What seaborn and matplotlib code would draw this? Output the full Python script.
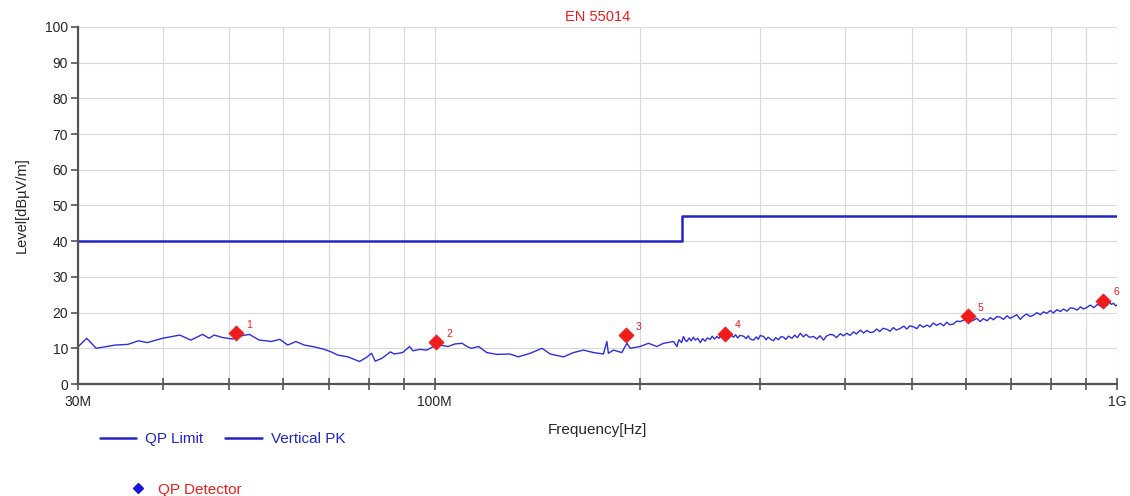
import numpy as np
import pandas as pd
import seaborn as sns
import matplotlib
matplotlib.use("Agg")
import matplotlib.pyplot as plt
from matplotlib.lines import Line2D
from matplotlib.ticker import FixedLocator, NullFormatter

# measured trace (Vertical PK), frequency in MHz, level in dBuV/m
freq_mhz = [
    30.0, 30.9, 31.9, 34.0, 35.5, 36.8, 37.9, 39.9, 42.3, 43.9, 45.7, 46.7, 47.5, 48.9,
    50.6, 51.7, 53.5, 55.3, 56.6, 57.6, 59.3, 60.9, 62.6, 64.4, 66.6, 68.9, 70.5, 72.1,
    74.6, 77.6, 79.5, 80.8, 81.8, 83.7, 86.1, 87.2, 89.7, 91.9, 92.9, 95.1, 97.4, 99.1,
    101.0, 104.6, 107.0, 109.7, 111.5, 113.2, 116.0, 119.2, 123.3, 128.9, 132.6, 138.0,
    143.6, 147.7, 154.4, 159.7, 165.2, 170.9, 176.7, 178.8, 179.7, 182.8, 188.0, 191.3,
    193.4, 200.0, 205.7, 211.6, 216.4, 223.9, 226.4, 228.0, 230.0, 231.5, 233.0, 234.2,
    236.0, 237.5, 239.5, 241.0, 243.0, 245.0, 247.0, 249.0, 251.0, 253.4, 255.0, 257.0,
    259.2, 261.0, 263.0, 265.0, 267.0, 269.0, 271.0, 274.2, 276.0, 278.0, 280.0, 283.6,
    286.0, 288.0, 290.0, 293.3, 296.0, 298.0, 300.0, 303.4, 306.0, 308.0, 311.0, 313.8,
    316.0, 319.0, 322.0, 324.6, 327.0, 330.0, 333.9, 337.0, 340.0, 343.5, 347.0, 350.0,
    354.0, 359.2, 363.0, 367.0, 371.5, 375.0, 380.0, 384.3, 388.0, 393.0, 397.0, 402.1,
    406.0, 411.0, 415.0, 420.6, 425.0, 430.0, 435.0, 439.9, 444.0, 449.0, 454.0, 460.1,
    465.0, 470.0, 475.0, 481.4, 487.0, 492.0, 497.0, 503.5, 509.0, 514.0, 520.0, 526.6,
    532.0, 538.0, 544.0, 550.8, 557.0, 563.0, 569.0, 576.1, 582.0, 589.6, 596.0, 605.0,
    611.0, 616.6, 623.0, 630.0, 637.0, 644.9, 652.0, 659.0, 667.0, 674.5, 682.0, 690.0,
    697.0, 705.5, 713.0, 721.5, 729.0, 737.0, 746.0, 754.7, 763.0, 772.0, 780.0, 789.5,
    798.0, 807.0, 816.0, 826.1, 835.0, 845.0, 854.0, 864.1, 874.0, 884.0, 893.0, 903.9,
    914.0, 925.0, 936.0, 947.0, 955.0, 960.0, 966.9, 974.0, 981.0, 988.8, 995.0, 1000.0,
]
level_pk = [
    10.4, 12.8, 10.0, 10.9, 11.1, 12.1, 11.6, 12.8, 13.7, 12.3, 13.9, 12.8, 13.7, 13.0,
    12.6, 13.4, 13.9, 12.3, 12.1, 11.9, 12.5, 10.9, 11.9, 10.9, 10.4, 9.7, 9.0, 8.1,
    7.6, 6.3, 7.5, 8.6, 6.4, 7.2, 9.0, 8.4, 8.8, 10.5, 9.3, 9.7, 9.5, 10.3,
    11.0, 10.5, 11.2, 11.4, 10.5, 10.0, 10.5, 8.8, 8.3, 8.4, 7.6, 8.6,
    10.0, 8.4, 7.6, 8.8, 9.5, 8.8, 8.4, 11.9, 8.6, 9.5, 8.8, 11.4,
    10.0, 10.5, 11.4, 10.5, 11.4, 11.9, 10.5, 12.4, 11.6, 13.3, 12.2, 11.9,
    12.9, 12.1, 13.1, 12.3, 12.8, 11.6, 12.7, 12.0, 12.9, 12.5, 13.4, 12.6,
    13.3, 12.8, 13.6, 13.9, 14.2, 13.4, 14.0, 13.1, 13.8, 12.9, 13.6, 13.4,
    12.7, 13.5, 12.6, 12.3, 13.2, 12.5, 13.6, 13.3, 12.4, 13.1, 12.5, 12.1,
    13.0, 12.4, 13.3, 13.1, 12.5, 13.4, 12.8, 13.7, 13.0, 14.2, 13.2, 13.9,
    13.1, 13.3, 12.6, 13.5, 12.3, 13.4, 13.9, 13.7, 13.0, 14.1, 13.5, 14.2,
    13.6, 14.6, 14.0, 15.1, 14.3, 15.0, 14.4, 14.6, 15.4, 14.7, 15.6, 15.3,
    14.8, 15.8, 15.1, 15.6, 16.2, 15.4, 16.3, 16.0, 15.5, 16.6, 15.9, 16.5,
    16.0, 17.1, 16.4, 17.0, 16.3, 17.3, 16.6, 16.8, 17.6, 17.5, 17.9, 18.3,
    17.6, 17.9, 18.4, 17.5, 18.3, 17.7, 18.6, 18.0, 18.9, 18.7, 18.1, 19.1,
    18.4, 18.9, 19.4, 18.1, 19.0, 19.6, 18.9, 19.3, 20.0, 19.4, 20.2, 19.8,
    20.6, 19.9, 20.8, 20.3, 21.0, 20.4, 21.3, 21.2, 20.7, 21.6, 21.0, 21.5,
    22.1, 21.4, 22.3, 21.8, 23.0, 22.5, 22.1, 23.0, 22.3, 22.6, 21.9, 22.1,
]

# QP limit (EN 55014)
limit_freq = [30.0, 230.0, 1000.0]
limit_level = [40.0, 47.0, 47.0]

# QP detector points
qp_freq = [51.2, 100.6, 190.9, 266.7, 605.0, 955.0]
qp_level = [14.2, 11.7, 13.6, 14.1, 19.0, 23.3]
qp_labels = ["1", "2", "3", "4", "5", "6"]

x_major = [30, 100, 1000]
x_major_labels = ["30M", "100M", "1G"]
x_minor = [40, 50, 60, 70, 80, 90, 200, 300, 400, 500, 600, 700, 800, 900]

sns.set_style("whitegrid")
plt.rcParams["font.family"] = ["Liberation Sans", "DejaVu Sans"]

blue = "#2424c8"
trace_blue = "#2e2ee0"
red = "#f01c1c"

fig = plt.figure(figsize=(11.3, 4.96), dpi=100)
ax = fig.add_axes([0.069, 0.2258, 0.9195, 0.7198])

trace = pd.DataFrame({"f": freq_mhz, "lvl": level_pk})
limit = pd.DataFrame({"f": limit_freq, "lvl": limit_level})
qp = pd.DataFrame({"f": qp_freq, "lvl": qp_level})

sns.lineplot(data=limit, x="f", y="lvl", ax=ax, color=blue, lw=1.8,
             drawstyle="steps-post", estimator=None, sort=False)
sns.lineplot(data=trace, x="f", y="lvl", ax=ax, color=trace_blue, lw=1.0,
             estimator=None, sort=False)
sns.scatterplot(data=qp, x="f", y="lvl", ax=ax, marker="D", color=red, s=60,
                edgecolor=red, linewidth=0.5, zorder=5)
for f, l, t in zip(qp_freq, qp_level, qp_labels):
    ax.annotate(t, (f, l), xytext=(7, 4), textcoords="offset points",
                color=red, fontsize=7.5)

ax.set_xscale("log")
ax.set_xlim(30, 1000)
ax.set_ylim(0, 100)
ax.xaxis.set_major_locator(FixedLocator(x_major))
ax.set_xticklabels(x_major_labels)
ax.xaxis.set_minor_locator(FixedLocator(x_minor))
ax.xaxis.set_minor_formatter(NullFormatter())
ax.set_yticks(range(0, 101, 10))

ax.grid(True, which="both", color="#d9d9d9", lw=0.8)
for side in ["top", "right"]:
    ax.spines[side].set_visible(False)
for side in ["left", "bottom"]:
    ax.spines[side].set_color("#555555")
    ax.spines[side].set_linewidth(1.6)
ax.tick_params(axis="y", which="major", left=True, length=5, width=1.2,
               color="#555555", labelsize=10, pad=2)
ax.tick_params(axis="x", which="both", bottom=True, direction="inout",
               length=8, width=1.2, color="#555555", labelsize=10, pad=4)

ax.set_xlabel("Frequency[Hz]", fontsize=11, labelpad=10)
ax.set_ylabel("Level[dBµV/m]", fontsize=10.5, labelpad=12)
ax.set_title("EN 55014", color=red, fontsize=10.5, pad=4)

h1 = [Line2D([], [], color=blue, lw=1.8), Line2D([], [], color=blue, lw=1.8)]
leg1 = fig.legend(h1, ["QP Limit", "Vertical PK"], ncol=2, loc="center left",
                  bbox_to_anchor=(0.076, 0.115), frameon=False, fontsize=11,
                  handlelength=2.4, handletextpad=0.6, columnspacing=1.4,
                  labelcolor=[blue, blue])
h2 = [Line2D([], [], color="#1818d8", marker="D", ls="", ms=5)]
leg2 = fig.legend(h2, ["QP Detector"], loc="center left",
                  bbox_to_anchor=(0.103, 0.013), frameon=False, fontsize=11,
                  handlelength=1.0, labelcolor=[red])

fig.savefig("out.png", dpi=100)
